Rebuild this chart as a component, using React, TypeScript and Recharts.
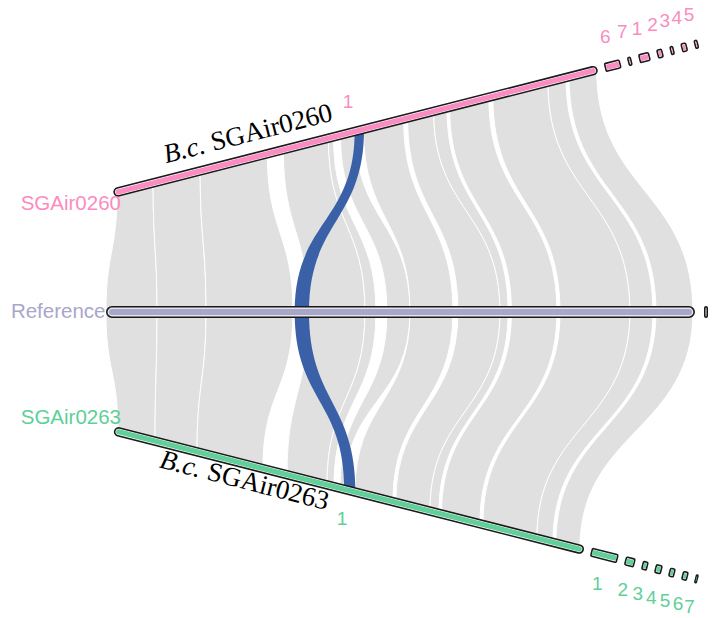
import { ScatterChart, Scatter, XAxis, YAxis } from 'recharts';

// contig lengths (kb) in plotting order, and the spacer drawn between contigs
const REF_CONTIGS = [5419, 37];
const REF_GAP = 83;
const SG260_CONTIGS = [5400, 179, 45, 123, 67, 45, 67, 45];
const SG260_NAMES = ['1', '6', '7', '1', '2', '3', '4', '5'];
const SG260_GAP = 79;
const SG263_CONTIGS = [5350, 307, 114, 68, 80, 68, 68, 34];
const SG263_NAMES = ['1', '1', '2', '3', '4', '5', '6', '7'];
const SG263_GAP = 80;

// collinear blocks: [ref start, ref end, query start, query end] in kb
const LINKS_260 = [
  [0, 469, 40, 442],
  [469, 920, 442, 967],
  [920, 1720, 967, 1716],
  [1858, 2383, 1895, 2398],
  [2383, 2484, 2398, 2454],
  [2585, 2797, 2532, 2700],
  [2797, 3192, 2789, 3237],
  [3238, 3625, 3281, 3572],
  [3625, 3700, 3572, 3720],
  [3730, 4149, 3750, 4187],
  [4177, 4821, 4232, 4847],
  [4821, 5032, 4847, 5048],
  [5060, 5400, 5082, 5390],
];
const LINKS_263 = [
  [0, 469, 46, 467],
  [469, 920, 467, 945],
  [920, 1720, 945, 1696],
  [1858, 2383, 1970, 2425],
  [2383, 2484, 2425, 2505],
  [2585, 2797, 2573, 2630],
  [2797, 3192, 2744, 3176],
  [3238, 3625, 3210, 3598],
  [3625, 3700, 3598, 3700],
  [3730, 4149, 3730, 4167],
  [4177, 4821, 4201, 4816],
  [4821, 5032, 4816, 4998],
  [5060, 5400, 5032, 5305],
];
// the one block that moved relative to the reference
const MOVED_260 = [1736, 1868, 2690, 2795];
const MOVED_263 = [1736, 1868, 2622, 2750];

const GREY = '#e0e0e0';
const MOVED = '#3a60a8';
const PINK = '#fa8cc2';
const GREEN = '#60cf9a';
const LAVENDER = '#a8a6cb';
const SANS = "'Liberation Sans', Arial, Helvetica, sans-serif";
const SERIF = "'Liberation Serif', 'Times New Roman', serif";

// x axis: reference kb, y axis: track rows (reference at 0)
const X_DOMAIN: [number, number] = [-975, 5640];
const Y_DOMAIN: [number, number] = [-2.55, 2.6];

type P = { x: number; y: number };
type Track = { contigs: number[]; gap: number; from: [number, number]; to: [number, number] };

const REF: Track = { contigs: REF_CONTIGS, gap: REF_GAP, from: [0, 0], to: [5539, 0] };
const SG260: Track = { contigs: SG260_CONTIGS, gap: SG260_GAP, from: [69, 0.991], to: [5450, 2.235] };
const SG263: Track = { contigs: SG263_CONTIGS, gap: SG263_GAP, from: [74, -0.989], to: [5446, -2.227] };

const total = (t: Track) => t.contigs.reduce((a, b) => a + b, 0) + t.gap * (t.contigs.length - 1);

function at(t: Track, kb: number): P {
  const f = kb / total(t);
  return {
    x: t.from[0] + (t.to[0] - t.from[0]) * f,
    y: t.from[1] + (t.to[1] - t.from[1]) * f,
  };
}

function ranges(t: Track): [number, number][] {
  let s = 0;
  return t.contigs.map((len) => {
    const r: [number, number] = [s, s + len];
    s += len + t.gap;
    return r;
  });
}

const linkPoints = (q: Track, l: number[]): P[] => [at(REF, l[0]), at(q, l[2]), at(q, l[3]), at(REF, l[1])];

// ribbon edges leave each track vertically, like a bump curve
function ribbonPath(pts: P[]) {
  const [a, b, c, d] = pts;
  const m1 = (a.y + b.y) / 2;
  const m2 = (c.y + d.y) / 2;
  return `M${a.x},${a.y} C${a.x},${m1} ${b.x},${m1} ${b.x},${b.y} L${c.x},${c.y} C${c.x},${m2} ${d.x},${m2} ${d.x},${d.y} Z`;
}

const noDot = () => <g />;

function ContigBar({ points, color, thick, inner, main, pad }: {
  points: P[]; color: string; thick: number; inner: number; main: boolean; pad: string;
}) {
  const [p, q] = points;
  const len = Math.hypot(q.x - p.x, q.y - p.y);
  const ang = (Math.atan2(q.y - p.y, q.x - p.x) * 180) / Math.PI;
  const cx = (p.x + q.x) / 2;
  const cy = (p.y + q.y) / 2;
  const w = Math.max(len - 1.6, 0.8);
  const h = thick - 1.6;
  const r = main ? h / 2 : 1.2;
  const iw = main ? Math.max(w - (h - inner), 0.6) : Math.max(w - 1.8, 0.6);
  const ir = main ? inner / 2 : 0.4;
  return (
    <g transform={`translate(${cx},${cy}) rotate(${ang})`}>
      <rect x={-w / 2} y={-h / 2} width={w} height={h} rx={Math.min(r, w / 2)} fill={pad} stroke="#1a1a1a" strokeWidth={1.6} />
      <rect x={-iw / 2} y={-inner / 2} width={iw} height={inner} rx={Math.min(ir, iw / 2)} fill={color} />
    </g>
  );
}

function ribbons(q: Track, links: number[][], key: string, fill: string, stroke: string) {
  return links.map((l, i) => (
    <Scatter
      key={`${key}-${i}`}
      data={linkPoints(q, l)}
      isAnimationActive={false}
      shape={noDot}
      line={(p: any) => <path d={ribbonPath(p.points)} fill={fill} stroke={stroke} strokeWidth={stroke === 'none' ? 0 : 1} />}
    />
  ));
}

function bars(t: Track, key: string, color: string, thick: number, inner: number, pad: string) {
  return ranges(t).map(([s, e], i) => (
    <Scatter
      key={`${key}-${i}`}
      data={[at(t, s), at(t, e)]}
      isAnimationActive={false}
      shape={noDot}
      line={(p: any) => <ContigBar points={p.points} color={color} thick={thick} inner={inner} main={i === 0} pad={pad} />}
    />
  ));
}

// contig numbers sit on the outer side of each tilted track
function contigTags(t: Track, names: string[], key: string, color: string, nx: number, ny: number) {
  const data = ranges(t).map(([s, e], i) => ({ ...at(t, (s + e) / 2), name: names[i] }));
  return (
    <Scatter
      key={key}
      data={data}
      isAnimationActive={false}
      shape={(p: any) => (
        <text x={p.cx + nx} y={p.cy + ny} textAnchor="middle" dominantBaseline="central" fontFamily={SANS} fontSize={19} fill={color}>
          {p.payload.name}
        </text>
      )}
    />
  );
}

function nameTag(t: Track, name: string, color: string, dx: number, dy: number) {
  return (
    <Scatter
      key={`name-${name}`}
      data={[at(t, 0)]}
      isAnimationActive={false}
      shape={(p: any) => (
        <text x={p.cx + dx} y={p.cy + dy} textAnchor="end" fontFamily={SANS} fontSize={20.5} fill={color}>
          {name}
        </text>
      )}
    />
  );
}

function title(t: Track, kb: number, strain: string, angle: number, dy: number) {
  return (
    <Scatter
      key={`title-${strain}`}
      data={[at(t, kb)]}
      isAnimationActive={false}
      shape={(p: any) => (
        <g transform={`translate(${p.cx},${p.cy}) rotate(${angle})`}>
          <text x={0} y={dy} fontFamily={SERIF} fontSize={27} fill="#000">
            <tspan fontStyle="italic">B.c.</tspan>
            <tspan> {strain}</tspan>
          </text>
        </g>
      )}
    />
  );
}

export default function App() {
  return (
    <div style={{ position: 'absolute', left: 0, top: 0, background: '#fff' }}>
      <ScatterChart width={719} height={618} margin={{ top: 0, right: 0, bottom: 0, left: 0 }}>
        <XAxis type="number" dataKey="x" domain={X_DOMAIN} hide allowDataOverflow />
        <YAxis type="number" dataKey="y" domain={Y_DOMAIN} hide allowDataOverflow />

        {ribbons(SG260, LINKS_260, 'l260', GREY, '#ffffff')}
        {ribbons(SG263, LINKS_263, 'l263', GREY, '#ffffff')}
        {ribbons(SG260, [MOVED_260], 'm260', MOVED, 'none')}
        {ribbons(SG263, [MOVED_263], 'm263', MOVED, 'none')}

        {bars(REF, 'ref', LAVENDER, 12, 6, '#e3e3e9')}
        {bars(SG260, 'b260', PINK, 9.5, 5.2, '#ffffff')}
        {bars(SG263, 'b263', GREEN, 9.5, 5.2, '#ffffff')}

        {contigTags(SG260, SG260_NAMES, 't260', PINK, -7.4, -29.5)}
        {contigTags(SG263, SG263_NAMES, 't263', GREEN, -7, 28)}

        {nameTag(SG260, 'SGAir0260', PINK, 7.5, 17)}
        {nameTag(REF, 'Reference', LAVENDER, -0.5, 5.5)}
        {nameTag(SG263, 'SGAir0263', GREEN, 7, -6.5)}

        {title(SG260, 630, 'SGAir0260', -14.3, -16)}
        {title(SG263, 575, 'SGAir0263', 14.3, 24.5)}
      </ScatterChart>
    </div>
  );
}
